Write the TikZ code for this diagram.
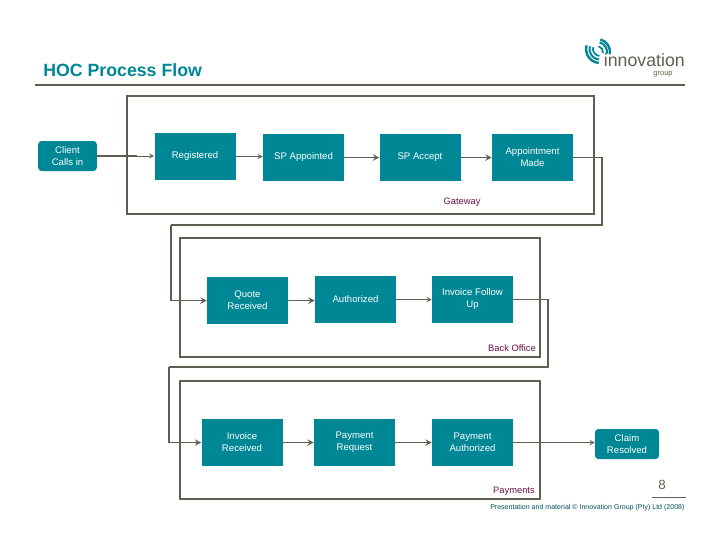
\documentclass[tikz,border=0pt]{standalone}
\usepackage{fontspec}
\setmainfont{Liberation Sans}
\usetikzlibrary{arrows, calc}
\definecolor{hocTeal}{HTML}{008795}
\definecolor{hocLine}{HTML}{5F5E50}
\definecolor{hocLabel}{HTML}{6B0F45}
\tikzstyle{stage}=[draw=none, fill=hocTeal, text=white, align=center, inner sep=0pt, minimum width=60.75pt, minimum height=35.25pt, font=\fontsize{7.2}{9}\selectfont]
\tikzstyle{endStage}=[stage, rounded corners=2.5pt, minimum width=44pt, minimum height=22.5pt]
\tikzstyle{frame}=[draw=hocLine, line width=1.25pt]
\tikzstyle{flowLine}=[draw=hocLine, line width=1.1pt]
\tikzstyle{flowArrow}=[->, >=stealth, draw=hocLine, line width=1.1pt]
\tikzstyle{thinArrow}=[->, >=stealth, draw=hocLine, line width=0.7pt]
\tikzstyle{areaLabel}=[text=hocLabel, inner sep=0pt, font=\fontsize{7}{9}\selectfont]

\begin{document}
\begin{tikzpicture}[x=0.75pt, y=-0.75pt]
      \useasboundingbox (0,0) rectangle (720,540);

      \node[anchor=base west, inner sep=0pt, text=hocTeal, font=\fontsize{13.3}{15}\selectfont\bfseries] (title) at (43,76) {HOC Process Flow};
      \draw[frame] (35,85) -- (685,85);

      % logo
      \foreach \r/\w in {6/1.3, 10/1.5, 13/1.8}{
        \draw[hocTeal, line width=\w pt] (597,52) ++(-75:\r) arc (-75:10:\r);
      }
      \foreach \r/\w in {7/1.3, 10.5/1.5, 14/1.8}{
        \draw[hocTeal, line width=\w pt] (600,49) ++(95:\r) arc (95:195:\r);
      }
      \node[anchor=base east, inner sep=0pt, text=hocLine, font=\fontsize{13.3}{15}\selectfont] (logoName) at (685,66.5) {innovation};
      \node[anchor=base, inner sep=0pt, text=hocLine, font=\fontsize{5.6}{7}\selectfont] (logoGroup) at (663,75.5) {group};

      % frames
      \draw[frame] (127,96) rectangle (594,214);
      \draw[frame] (180,238) rectangle (540,357);
      \draw[frame] (180,381) rectangle (540,499);

      % first row
      \node[endStage] (client) at (67.5,156) {Client\\Calls in};
      \node[stage] (registered) at (195,156.5) {Registered};
      \node[stage] (appointed) at (303.5,157.5) {SP Appointed};
      \node[stage] (accept) at (420,157.5) {SP Accept};
      \node[stage] (made) at (532.5,157.5) {Appointment\\Made};
      \node[areaLabel] (gateway) at (462,202.5) {Gateway};

      % second row
      \node[stage] (quote) at (247.5,300.5) {Quote\\Received};
      \node[stage] (authorized) at (355.5,299.5) {Authorized};
      \node[stage] (followUp) at (472.5,299.5) {Invoice Follow\\Up};
      \node[areaLabel, anchor=east] (backOffice) at (536,348.5) {Back Office};

      % third row
      \node[stage] (received) at (242,442.5) {Invoice\\Received};
      \node[stage] (request) at (354.5,442.5) {Payment\\Request};
      \node[stage] (paid) at (472.5,442.5) {Payment\\Authorized};
      \node[endStage, minimum width=48pt] (claim) at (627,444) {Claim\\Resolved};
      \node[areaLabel, anchor=east] (payments) at (535,491) {Payments};

      \coordinate (turnA) at (602,225);
      \coordinate (turnB) at (171,225);
      \coordinate (turnC) at (548,367);
      \coordinate (turnD) at (169,367);
      \coordinate (stubClient) at (137,156);
      \coordinate (stubPaid) at (560,442.5);

      \draw[flowLine] (client.east) -- (stubClient);
      \draw[thinArrow] (stubClient) -- (registered.west |- stubClient);
      \draw[thinArrow] (registered.east) -- (appointed.west |- registered.east);
      \draw[flowArrow] (appointed) -- (accept);
      \draw[flowArrow] (accept) -- (made);
      \draw[flowLine] (made.east) -| (turnA) -- (turnB);
      \draw[flowArrow] (turnB) |- (quote.west);

      \draw[flowArrow] (quote.east) -- (authorized.west |- quote.east);
      \draw[thinArrow] (authorized) -- (followUp);
      \draw[flowLine] (followUp.east) -| (turnC) -- (turnD);
      \draw[flowArrow] (turnD) |- (received.west);

      \draw[flowArrow] (received) -- (request);
      \draw[flowArrow] (request) -- (paid);
      \draw[flowLine] (paid.east) -- (stubPaid);
      \draw[thinArrow] (stubPaid) -- (claim.west |- stubPaid);

      % footer
      \node[inner sep=0pt, text=hocLine, font=\fontsize{10}{12}\selectfont] (pageNo) at (662,485) {8};
      \draw[hocLine, line width=0.7pt] (652,497) -- (686,497);
      \node[anchor=west, inner sep=0pt, text=hocTeal!60!black, font=\fontsize{5.28}{6}\selectfont] (footer) at (490,508) {Presentation and material © Innovation Group (Pty) Ltd (2008)};
    \end{tikzpicture}
\end{document}
